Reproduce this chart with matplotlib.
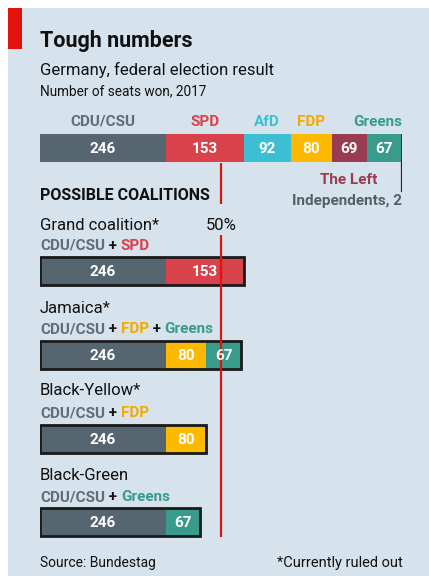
import matplotlib.pyplot as plt
from matplotlib.patches import Rectangle

# seats won, 2017
parties = ['CDU/CSU', 'SPD', 'AfD', 'FDP', 'The Left', 'Greens', 'Independents']
seats = [246, 153, 92, 80, 69, 67, 2]
colors = ['#566670', '#d9414b', '#3cbfd3', '#fcb900', '#9a3c51', '#389b8b', '#2b3a42']
label_colors = ['#5f6e78', '#d9414b', '#3cbfd3', '#f2a900', '#9a3c51', '#389b8b', '#555f66']

coalitions = ['Grand coalition*', 'Jamaica*', 'Black-Yellow*', 'Black-Green']
members = [['CDU/CSU', 'SPD'], ['CDU/CSU', 'FDP', 'Greens'], ['CDU/CSU', 'FDP'], ['CDU/CSU', 'Greens']]

W, H = 429, 576
FONT = 'Roboto'
plt.rcParams['font.family'] = [FONT, 'DejaVu Sans']

fig = plt.figure(figsize=(W / 100, H / 100), dpi=100)
fig.patch.set_facecolor('white')
fig.patches.append(Rectangle((8 / W, 0), 1, 1 - 8 / H, transform=fig.transFigure,
                             facecolor='#d7e3ec', edgecolor='none', zorder=-10))
fig.patches.append(Rectangle((8 / W, 1 - 49 / H), 14 / W, 41 / H, transform=fig.transFigure,
                             facecolor='#e3120b', edgecolor='none', zorder=-9))

ax = fig.add_axes([40 / W, 0, 362 / W, 1])
ax.set_xlim(0, sum(seats))
ax.set_ylim(H, 0)
ax.axis('off')

renderer = fig.canvas.get_renderer()


def ftext(x, y, s, **kw):
    return fig.text(x / W, 1 - y / H, s, va='baseline', **kw)


def rich(x, y, parts, size=11, weight='bold'):
    for s, c in parts:
        t = ftext(x, y, s, color=c, fontsize=size, fontweight=weight)
        x += t.get_window_extent(renderer).width


# titles
ftext(40, 47, 'Tough numbers', fontsize=15.5, fontweight='bold', color='#111111')
ftext(40, 75, 'Germany, federal election result', fontsize=12, color='#111111')
ftext(40, 95, 'Number of seats won, 2017', fontsize=9.8, color='#111111')

# main bar
left = 0
ymain = 148
for p, v, c, lc in zip(parties, seats, colors, label_colors):
    ax.barh(ymain, v, left=left, height=28, color=c, edgecolor='none')
    cx = left + v / 2
    if p not in ('Independents',):
        ax.text(cx, ymain + 1, str(v), ha='center', va='center', color='white',
                fontsize=11, fontweight='bold')
    if p in ('CDU/CSU', 'SPD', 'AfD', 'FDP'):
        ax.text(cx, 126, p, ha='center', va='baseline', color=lc, fontsize=11, fontweight='bold')
    elif p == 'Greens':
        ax.text(sum(seats), 126, p, ha='right', va='baseline', color=lc, fontsize=11, fontweight='bold')
    elif p == 'The Left':
        ax.text(cx, 184, p, ha='center', va='baseline', color=lc, fontsize=11, fontweight='bold')
    left += v

ax.text(sum(seats), 205, 'Independents, 2', ha='right', va='baseline', color='#555f66',
        fontsize=11, fontweight='bold')
ax.plot([sum(seats), sum(seats)], [162, 191], color='#222222', lw=1.6)

# majority line
half = sum(seats) / 2
ax.plot([half, half], [163, 204], color='#e3120b', lw=1.6, solid_capstyle='butt')
ax.plot([half, half], [235, 537], color='#e3120b', lw=1.6, solid_capstyle='butt')
ax.text(half, 230, '50%', ha='center', va='baseline', fontsize=12, color='#111111')

ftext(40, 200, 'POSSIBLE COALITIONS', fontsize=11.5, fontweight='bold', color='#111111')

# coalitions
name_y = [230, 313, 395, 480]
sub_y = [250, 333, 417, 501]
bar_y = [271, 355, 439, 522]
for name, mem, ny, sy, by in zip(coalitions, members, name_y, sub_y, bar_y):
    ftext(40, ny, name, fontsize=12, color='#111111')
    parts = []
    for i, m in enumerate(mem):
        if i > 0:
            parts.append((' + ', '#111111'))
        parts.append((m, label_colors[parties.index(m)]))
    rich(40, sy, parts)
    left = 0
    for m in mem:
        k = parties.index(m)
        ax.barh(by, seats[k], left=left, height=28, color=colors[k], edgecolor='none')
        ax.text(left + seats[k] / 2, by + 1, str(seats[k]), ha='center', va='center',
                color='white', fontsize=11, fontweight='bold')
        left += seats[k]
    ax.barh(by, left, left=0, height=28, fill=False, edgecolor='#1a1a1a', lw=2)

ftext(40, 567, 'Source: Bundestag', fontsize=10, color='#111111')
ftext(403, 567, '*Currently ruled out', fontsize=10.5, color='#111111', ha='right')

fig.savefig('out.png', dpi=100, facecolor=fig.get_facecolor())
